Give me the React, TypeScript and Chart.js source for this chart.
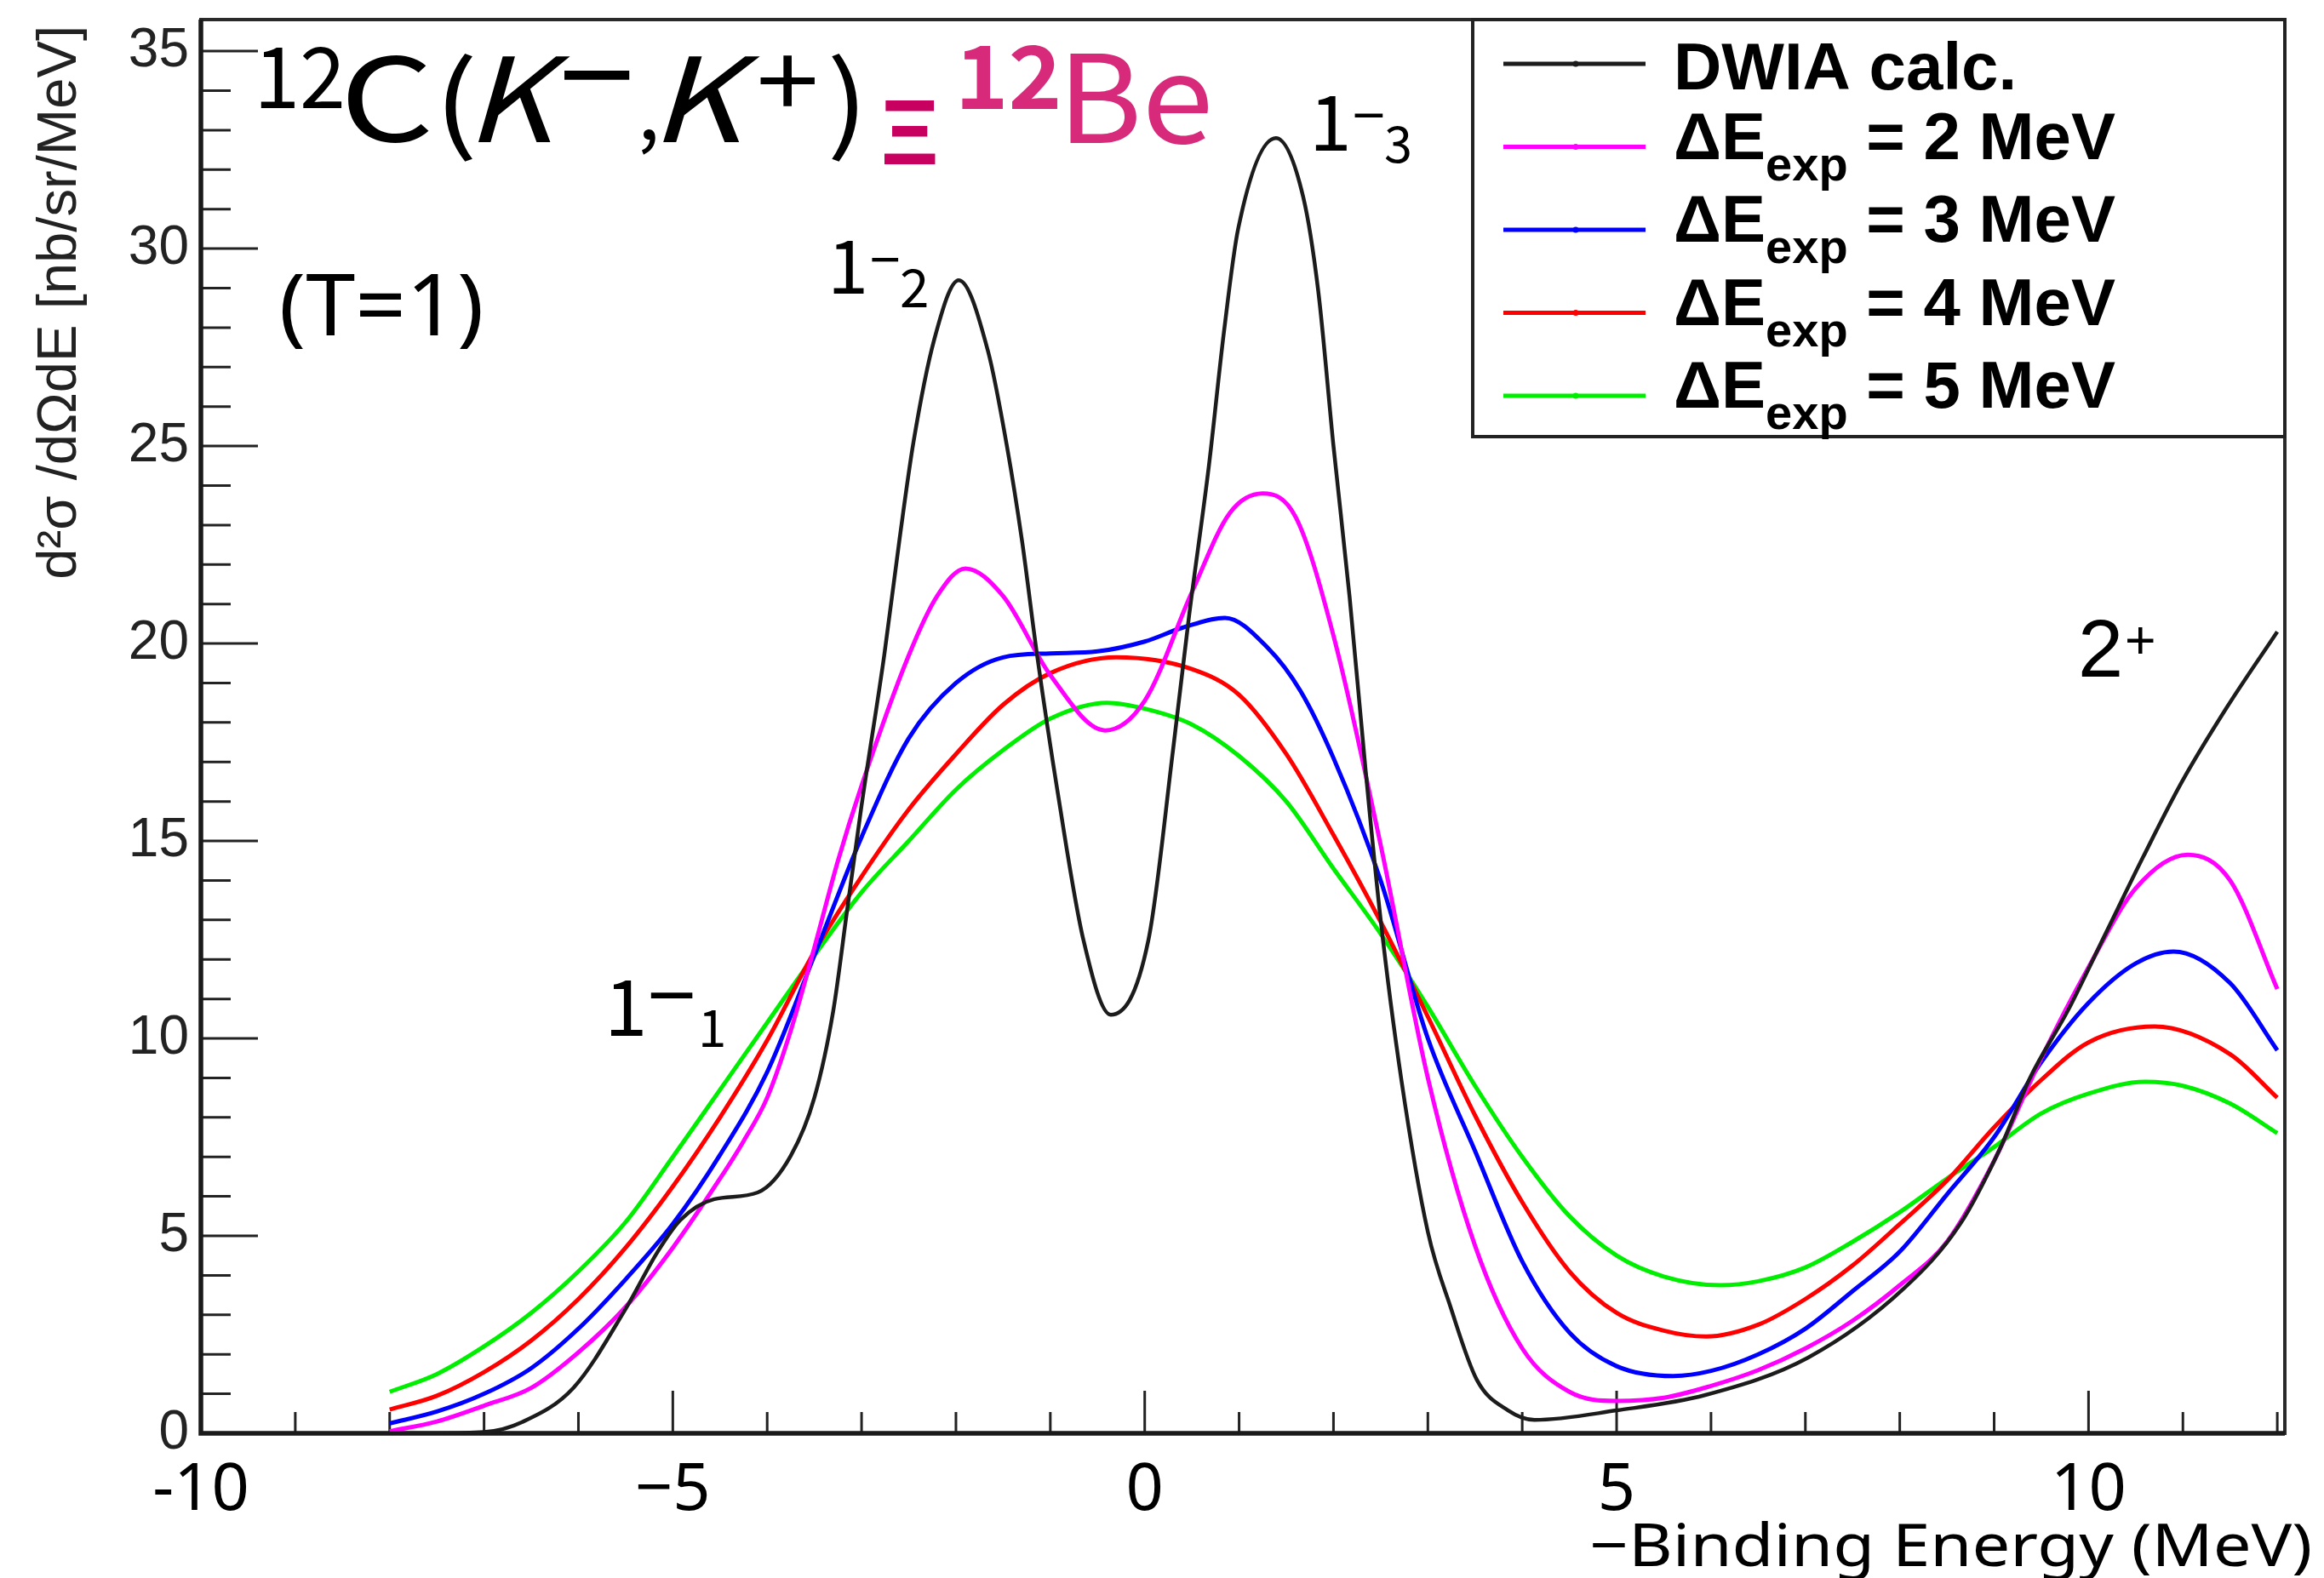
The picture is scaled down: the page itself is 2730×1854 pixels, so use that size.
import React, { useEffect, useRef } from "react";
import { Chart, registerables } from "chart.js";

Chart.register(...registerables);

const CANVAS_W = 2730;
const CANVAS_H = 1854;

// ---------- data ----------
const energyDWIA = [-8, -7.5, -7, -6.6, -6.05, -5.5, -5.16, -4.92, -4.56, -4.1, -3.75, -3.5, -3.3, -3.15, -3.0, -2.76, -2.6, -2.45, -2.23, -1.97, -1.66, -1.46, -1.3, -1.14, -0.92, -0.65, -0.36, 0.04, 0.3, 0.47, 0.68, 0.84, 0.99, 1.39, 1.68, 1.84, 2.0, 2.17, 2.34, 2.5, 2.72, 3.0, 3.24, 3.52, 3.85, 4.13, 5.0, 5.94, 7.03, 8.04, 8.64, 9.06, 9.38, 9.78, 10.18, 10.58, 10.99, 11.47, 12];
const sigmaDWIA = [0, 0, 0.03, 0.28, 1.16, 3.15, 4.6, 5.4, 5.93, 6.1, 7.03, 8.5, 10.7, 13.3, 15.9, 19.7, 22.6, 25.1, 27.7, 29.2, 27.4, 25.0, 22.6, 19.7, 16.2, 12.5, 10.6, 12.5, 17.3, 20.7, 24.5, 27.9, 30.5, 32.8, 31.3, 28.9, 25.0, 21.2, 16.8, 13.0, 8.94, 5.1, 3.2, 1.35, 0.58, 0.34, 0.58, 0.97, 1.92, 3.66, 5.3, 7.2, 9.0, 10.7, 12.65, 14.6, 16.5, 18.4, 20.3];

const energy2MeV = [-8, -7.5, -7, -6.5, -6, -5.5, -5, -4.5, -4.25, -4, -3.75, -3.5, -3.25, -3, -2.5, -2.2, -1.9, -1.5, -1, -0.42, 0, 0.5, 0.9, 1.25, 1.6, 2, 2.5, 3, 3.5, 4, 4.5, 5, 5.5, 6, 6.5, 7, 7.5, 8, 8.5, 9, 9.5, 10, 10.5, 11.05, 11.5, 12];
const sigma2MeV = [0.05, 0.3, 0.7, 1.15, 2.05, 3.2, 4.7, 6.45, 7.4, 8.5, 10.2, 12.3, 14.5, 16.4, 19.7, 21.2, 21.9, 21.2, 19.2, 17.8, 18.55, 21.3, 23.3, 23.8, 23.2, 20.2, 14.9, 9.0, 4.75, 2.15, 1.05, 0.82, 0.9, 1.2, 1.6, 2.15, 2.85, 3.75, 4.85, 6.9, 9.5, 11.8, 13.8, 14.65, 14.0, 11.25];

const energy3MeV = [-8, -7.5, -7, -6.5, -6, -5.5, -5, -4.5, -4, -3.5, -3, -2.5, -2, -1.5, -1, -0.5, 0, 0.4, 0.85, 1.3, 1.65, 2, 2.5, 3, 3.5, 4, 4.5, 5, 5.6, 6, 6.5, 7, 7.5, 8, 8.5, 9, 9.5, 10, 10.5, 10.9, 11.5, 12];
const sigma3MeV = [0.25, 0.55, 1.0, 1.65, 2.65, 3.9, 5.3, 7.05, 9.15, 12.1, 15.1, 17.6, 19.0, 19.65, 19.75, 19.8, 20.05, 20.4, 20.65, 19.9, 18.8, 17.1, 14.0, 10.0, 7.15, 4.35, 2.55, 1.7, 1.45, 1.58, 2.0, 2.65, 3.6, 4.6, 6.05, 7.5, 9.4, 10.9, 11.9, 12.2, 11.4, 9.7];

const energy4MeV = [-8, -7.5, -7, -6.5, -6, -5.5, -5, -4.5, -4, -3.5, -3, -2.5, -2, -1.5, -1, -0.3, 0.5, 1, 1.5, 2, 2.5, 3, 3.5, 4, 4.5, 5, 5.5, 5.95, 6.5, 7, 7.5, 8, 8.5, 9, 9.5, 10, 10.7, 11.5, 12];
const sigma4MeV = [0.6, 0.95, 1.55, 2.35, 3.4, 4.7, 6.25, 8.0, 9.95, 12.2, 14.1, 15.8, 17.2, 18.45, 19.25, 19.65, 19.35, 18.7, 17.2, 15.15, 12.95, 10.55, 8.05, 5.85, 4.1, 3.05, 2.6, 2.45, 2.75, 3.4, 4.25, 5.3, 6.4, 7.75, 8.95, 9.9, 10.3, 9.6, 8.5];

const energy5MeV = [-8, -7.5, -7, -6.5, -6, -5.5, -5, -4.5, -4, -3.5, -3, -2.5, -2, -1.5, -1, -0.4, 0, 0.5, 1, 1.5, 2, 2.5, 3, 3.5, 4, 4.5, 5, 5.5, 6.1, 6.5, 7, 7.5, 8, 8.5, 9, 9.5, 10, 10.6, 11, 11.5, 12];
const sigma5MeV = [1.05, 1.5, 2.2, 3.05, 4.1, 5.35, 7.0, 8.7, 10.4, 12.1, 13.7, 15.0, 16.3, 17.3, 18.1, 18.5, 18.35, 17.95, 17.15, 16.0, 14.3, 12.65, 10.8, 8.8, 7.0, 5.5, 4.5, 3.97, 3.75, 3.85, 4.2, 4.85, 5.6, 6.45, 7.25, 8.1, 8.6, 8.9, 8.8, 8.35, 7.6];

const seriesEnergies = [energyDWIA, energy2MeV, energy3MeV, energy4MeV, energy5MeV];
const seriesSigmas = [sigmaDWIA, sigma2MeV, sigma3MeV, sigma4MeV, sigma5MeV];
const seriesLabels = ["DWIA calc.", "ΔE_{exp} = 2 MeV", "ΔE_{exp} = 3 MeV", "ΔE_{exp} = 4 MeV", "ΔE_{exp} = 5 MeV"];
const seriesColors = ["#1c1c1c", "#ff00ff", "#0000ff", "#ff0000", "#00ee00"];

const xTickValues = [-10, -5, 0, 5, 10];
const xTickLabels = ["-10", "−5", "0", "5", "10"];
const yTickValues = [0, 5, 10, 15, 20, 25, 30, 35];
const yTickLabels = ["0", "5", "10", "15", "20", "25", "30", "35"];
const X_MIN = -10;
const X_MAX = 12.08;
const Y_MIN = 0;
const Y_MAX = 35.8;

const xAxisTitle = "−Binding Energy (MeV)";
const yAxisTitle = "d²σ /dΩdE [nb/sr/MeV]";

// ---------- fonts / helpers ----------
const JP = '"Noto Sans CJK JP", "Noto Sans", sans-serif';
const NS = '"Noto Sans", "Noto Sans CJK JP", sans-serif';
const HELV = '"Liberation Sans", Arial, Helvetica, sans-serif';

type FontSpec = { family: string; weight?: string | number; style?: string };

function fontStr(f: FontSpec, size: number) {
  return `${f.style ?? "normal"} ${f.weight ?? 400} ${size}px ${f.family}`;
}

function sizeForInkHeight(ctx: CanvasRenderingContext2D, text: string, f: FontSpec, h: number) {
  ctx.font = fontStr(f, 200);
  const m = ctx.measureText(text);
  const ink = m.actualBoundingBoxAscent + m.actualBoundingBoxDescent;
  return ink > 0 ? (200 * h) / ink : h;
}

function drawInk(ctx: CanvasRenderingContext2D, text: string, f: FontSpec, color: string, left: number, top: number, h: number) {
  const size = sizeForInkHeight(ctx, text, f, h);
  ctx.font = fontStr(f, size);
  ctx.textAlign = "left";
  ctx.textBaseline = "alphabetic";
  const m = ctx.measureText(text);
  ctx.fillStyle = color;
  ctx.fillText(text, left + m.actualBoundingBoxLeft, top + m.actualBoundingBoxAscent);
}

// glyph(s) fitted into an ink box (left, top, width, height)
function drawInkBox(ctx: CanvasRenderingContext2D, text: string, f: FontSpec, color: string, left: number, top: number, w: number, h: number) {
  const size = sizeForInkHeight(ctx, text, f, h);
  ctx.font = fontStr(f, size);
  ctx.textAlign = "left";
  ctx.textBaseline = "alphabetic";
  const m = ctx.measureText(text);
  const inkW = m.actualBoundingBoxLeft + m.actualBoundingBoxRight;
  let sx = inkW > 0 ? w / inkW : 1;
  sx = Math.max(0.6, Math.min(1.7, sx));
  ctx.save();
  ctx.translate(left, top + m.actualBoundingBoxAscent);
  ctx.scale(sx, 1);
  ctx.fillStyle = color;
  ctx.fillText(text, m.actualBoundingBoxLeft, 0);
  ctx.restore();
}

function drawInkW(ctx: CanvasRenderingContext2D, text: string, f: FontSpec, color: string, left: number, cy: number, w: number) {
  ctx.font = fontStr(f, 200);
  ctx.textAlign = "left";
  ctx.textBaseline = "alphabetic";
  let m = ctx.measureText(text);
  const inkW = m.actualBoundingBoxLeft + m.actualBoundingBoxRight;
  const size = inkW > 0 ? (200 * w) / inkW : 40;
  ctx.font = fontStr(f, size);
  m = ctx.measureText(text);
  const baseline = cy + (m.actualBoundingBoxAscent - m.actualBoundingBoxDescent) / 2;
  ctx.fillStyle = color;
  ctx.fillText(text, left + m.actualBoundingBoxLeft, baseline);
}

// text sized by the cap height of a sample glyph, then stretched to an ink width
function drawTextFit(
  ctx: CanvasRenderingContext2D, text: string, f: FontSpec, color: string,
  leftInk: number, rightInk: number, capTop: number, capSample: string, capH: number
) {
  const size = sizeForInkHeight(ctx, capSample, f, capH);
  ctx.font = fontStr(f, size);
  ctx.textAlign = "left";
  ctx.textBaseline = "alphabetic";
  const mc = ctx.measureText(capSample);
  const baseline = capTop + mc.actualBoundingBoxAscent;
  const m = ctx.measureText(text);
  const inkW = m.actualBoundingBoxLeft + m.actualBoundingBoxRight;
  const sx = inkW > 0 ? (rightInk - leftInk) / inkW : 1;
  ctx.save();
  ctx.translate(leftInk, baseline);
  ctx.scale(sx, 1);
  ctx.fillStyle = color;
  ctx.fillText(text, m.actualBoundingBoxLeft, 0);
  ctx.restore();
}

// ROOT-like frame with inward ticks
const frameTicksPlugin = {
  id: "rootFrameTicks",
  beforeDatasetsDraw(chart: any) {
    const { ctx, chartArea: a } = chart;
    const xs = chart.scales.x;
    const ys = chart.scales.y;
    ctx.save();
    ctx.strokeStyle = "#222";
    ctx.lineWidth = 3;
    ctx.beginPath();
    for (let v = Math.ceil(xs.min); v <= xs.max + 1e-9; v += 1) {
      const px = xs.getPixelForValue(v);
      const len = xTickValues.includes(v) ? 50 : 25;
      ctx.moveTo(px, a.bottom);
      ctx.lineTo(px, a.bottom - len);
    }
    for (let v = Math.ceil(ys.min); v <= ys.max + 1e-9; v += 1) {
      const py = ys.getPixelForValue(v);
      const len = yTickValues.includes(v) ? 67 : 35;
      ctx.moveTo(a.left, py);
      ctx.lineTo(a.left + len, py);
    }
    ctx.stroke();
    ctx.strokeStyle = "#2a2a2a";
    ctx.lineWidth = 4;
    ctx.strokeRect(a.left, a.top, a.right - a.left, a.bottom - a.top);
    ctx.strokeStyle = "#1a1a1a";
    ctx.lineWidth = 5.5;
    ctx.beginPath();
    ctx.moveTo(a.left, a.top);
    ctx.lineTo(a.left, a.bottom);
    ctx.lineTo(a.right, a.bottom);
    ctx.stroke();
    ctx.restore();
  },
};

// Texts, labels and legend
const annotationPlugin = {
  id: "rootAnnotations",
  afterDraw(chart: any) {
    const { ctx } = chart;
    ctx.save();
    const jp = { family: JP, weight: 400 };
    const jpIt = { family: JP, weight: 400, style: "italic" };
    const jpB = { family: JP, weight: 700 };
    const ns = { family: NS, weight: 400 };
    const hv = { family: HELV, weight: 400 };

    // Title 12C(K-,K+) Xi 12Be
    drawInkBox(ctx, "12", jp, "#000", 306, 55, 96, 72);
    drawInkBox(ctx, "C", jp, "#000", 408, 65, 96, 103);
    drawInkBox(ctx, "(", jp, "#000", 523, 63, 32, 127);
    drawInkBox(ctx, "K", jpIt, "#000", 561, 66, 109, 101);
    drawInkW(ctx, "−", jp, "#000", 663, 88, 77);
    drawInk(ctx, ",", jp, "#000", 753, 152, 30);
    drawInkBox(ctx, "K", jpIt, "#000", 778, 66, 115, 101);
    drawInkBox(ctx, "+", jp, "#000", 893, 65, 64, 60);
    drawInkBox(ctx, ")", jp, "#000", 977, 63, 30, 127);
    drawInkBox(ctx, "Ξ", jpB, "#c8005f", 1038, 118, 61, 75);
    drawInkBox(ctx, "12", jpB, "#d82a7b", 1130, 53, 112, 75);
    drawInkBox(ctx, "Be", jp, "#d82a7b", 1257, 63, 163, 107);

    // (T=1)
    drawTextFit(ctx, "(T=1)", ns, "#000", 332, 565, 322, "T", 72);

    // state labels
    drawInk(ctx, "1", jp, "#000", 717, 1152, 65);
    drawInkW(ctx, "−", jp, "#000", 764, 1169, 49);
    drawInk(ctx, "1", jp, "#000", 825, 1187, 43);

    drawInk(ctx, "1", jp, "#000", 979, 283, 62);
    drawInkW(ctx, "−", jp, "#000", 1024, 305, 31);
    drawInk(ctx, "2", jp, "#000", 1059, 316, 45);

    drawInk(ctx, "1", jp, "#000", 1545, 113, 64);
    drawInkW(ctx, "−", jp, "#000", 1591, 135, 33);
    drawInk(ctx, "3", jp, "#000", 1627, 148, 44);

    drawInk(ctx, "2", hv, "#000", 2445, 728, 67);
    drawInk(ctx, "+", hv, "#000", 2499, 737, 31);

    // y-axis title (rotated)
    const ySize = sizeForInkHeight(ctx, "E", hv, 45);
    ctx.save();
    ctx.translate(89, 30);
    ctx.rotate(-Math.PI / 2);
    ctx.font = fontStr(hv, ySize);
    ctx.fillStyle = "#222";
    ctx.textAlign = "right";
    ctx.textBaseline = "alphabetic";
    ctx.fillText(yAxisTitle, 0, 0);
    ctx.restore();

    // x-axis title
    drawTextFit(ctx, xAxisTitle, ns, "#000", 1871, 2714, 1790, "B", 50);

    // legend
    const lx0 = 1730, ly0 = 23, lx1 = 2684, ly1 = 513;
    ctx.fillStyle = "#fff";
    ctx.fillRect(lx0, ly0, lx1 - lx0, ly1 - ly0);
    ctx.strokeStyle = "#222";
    ctx.lineWidth = 4;
    ctx.strokeRect(lx0, ly0, lx1 - lx0, ly1 - ly0);
    const mainF = { family: HELV, weight: 700 };
    for (let i = 0; i < seriesLabels.length; i++) {
      const rowY = 75 + i * 97.5;
      ctx.strokeStyle = seriesColors[i];
      ctx.lineWidth = 5;
      ctx.beginPath();
      ctx.moveTo(1766, rowY);
      ctx.lineTo(1933, rowY);
      ctx.stroke();
      ctx.fillStyle = seriesColors[i];
      ctx.beginPath();
      ctx.arc(1851, rowY, 3.5, 0, Math.PI * 2);
      ctx.fill();

      const label = seriesLabels[i];
      const mm = label.match(/^(.*)_\{(.*)\}(.*)$/);
      ctx.fillStyle = "#000";
      ctx.textAlign = "left";
      ctx.textBaseline = "alphabetic";
      if (!mm) {
        ctx.font = fontStr(mainF, 78);
        ctx.fillText(label, 1966, rowY + 30);
      } else {
        const base = rowY + 14;
        let x = 1966;
        ctx.font = fontStr(mainF, 78);
        ctx.fillText(mm[1], x, base);
        x += ctx.measureText(mm[1]).width;
        ctx.font = fontStr(mainF, 56);
        ctx.fillText(mm[2], x, base + 25);
        x += ctx.measureText(mm[2]).width;
        ctx.font = fontStr(mainF, 78);
        ctx.fillText(mm[3], x, base);
      }
    }
    ctx.restore();
  },
};

export default function App() {
  const ref = useRef<HTMLCanvasElement>(null);

  useEffect(() => {
    const canvas = ref.current;
    if (!canvas) return;
    const mctx = document.createElement("canvas").getContext("2d") as CanvasRenderingContext2D;

    // x tick label font fitted to the digit height seen in the picture
    const xTickFont = { family: NS, weight: 400 };
    const xTickSize = sizeForInkHeight(mctx, "0", xTickFont, 57);
    mctx.font = fontStr(xTickFont, xTickSize);
    mctx.textBaseline = "middle";
    const m0 = mctx.measureText("0");
    const inkCenterOff = (m0.actualBoundingBoxDescent - m0.actualBoundingBoxAscent) / 2;
    const plotBottom = 1684;
    const xPad = 1746 - plotBottom - xTickSize / 2 - inkCenterOff;

    const datasets = seriesEnergies.map((E, i) => ({
      label: seriesLabels[i],
      data: E.map((e, j) => ({ x: e, y: seriesSigmas[i][j] })),
      borderColor: seriesColors[i],
      backgroundColor: seriesColors[i],
      borderWidth: i === 0 ? 4.5 : 5,
      pointRadius: 0,
      cubicInterpolationMode: "monotone" as const,
      fill: false,
    }));

    const chart = new Chart(canvas, {
      type: "line",
      data: { datasets },
      options: {
        animation: false,
        responsive: false,
        maintainAspectRatio: false,
        devicePixelRatio: 1,
        layout: { padding: { left: 0, right: CANVAS_W - 2684, top: 23, bottom: 0 } },
        plugins: {
          legend: { display: false },
          tooltip: { enabled: false },
          title: { display: false },
        },
        scales: {
          x: {
            type: "linear",
            min: X_MIN,
            max: X_MAX,
            grid: { display: false, drawTicks: false },
            border: { display: false },
            afterBuildTicks: (s: any) => {
              s.ticks = xTickValues.map((v) => ({ value: v }));
            },
            afterFit: (s: any) => {
              s.height = CANVAS_H - plotBottom;
              s.paddingLeft = 0;
              s.paddingRight = 0;
              s.paddingTop = 0;
              s.paddingBottom = 0;
            },
            ticks: {
              autoSkip: false,
              maxRotation: 0,
              minRotation: 0,
              padding: xPad,
              color: "#000",
              font: { family: NS, size: xTickSize, lineHeight: 1 },
              callback: (v: any) => {
                const k = xTickValues.indexOf(Number(v));
                return k >= 0 ? xTickLabels[k] : "";
              },
            },
          },
          y: {
            type: "linear",
            min: Y_MIN,
            max: Y_MAX,
            grid: { display: false, drawTicks: false },
            border: { display: false },
            afterBuildTicks: (s: any) => {
              s.ticks = yTickValues.map((v) => ({ value: v }));
            },
            afterFit: (s: any) => {
              s.width = 236;
              s.paddingLeft = 0;
              s.paddingRight = 0;
              s.paddingTop = 0;
              s.paddingBottom = 0;
            },
            ticks: {
              autoSkip: false,
              padding: 14,
              color: "#222",
              font: { family: HELV, size: 64, lineHeight: 1 },
              callback: (v: any) => {
                const k = yTickValues.indexOf(Number(v));
                return k >= 0 ? yTickLabels[k] : "";
              },
            },
          },
        },
      },
      plugins: [frameTicksPlugin, annotationPlugin],
    } as any);

    return () => chart.destroy();
  }, []);

  return (
    <div style={{ position: "absolute", left: 0, top: 0, width: CANVAS_W, height: CANVAS_H, background: "#fff", overflow: "hidden" }}>
      <canvas ref={ref} width={CANVAS_W} height={CANVAS_H} style={{ display: "block", width: CANVAS_W, height: CANVAS_H }} />
    </div>
  );
}
